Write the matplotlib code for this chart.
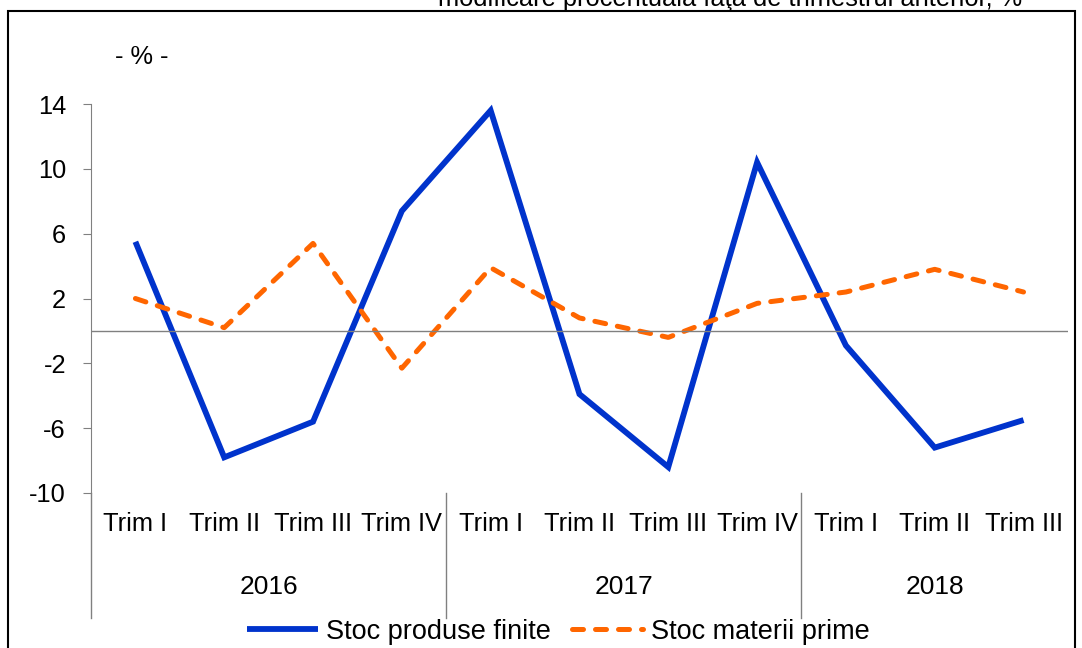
import matplotlib
matplotlib.use("Agg")
import matplotlib.pyplot as plt
from matplotlib.patches import Rectangle

plt.rcParams['font.family'] = ['Liberation Sans', 'DejaVu Sans']

quarters = ['Trim I', 'Trim II', 'Trim III', 'Trim IV',
            'Trim I', 'Trim II', 'Trim III', 'Trim IV',
            'Trim I', 'Trim II', 'Trim III']
years = ['2016', '2017', '2018']
year_spans = [(0, 3), (4, 7), (8, 10)]

# stoc produse finite
finite = [5.5, -7.8, -5.6, 7.4, 13.6, -3.9, -8.4, 10.4, -0.9, -7.2, -5.5]
# stoc materii prime
prime = [2.0, 0.2, 5.4, -2.3, 3.9, 0.8, -0.4, 1.7, 2.4, 3.8, 2.4]

yticks = [14, 10, 6, 2, -2, -6, -10]
fs = 18.3

fig = plt.figure(figsize=(10.82, 6.48), dpi=100)
ax = fig.add_axes([0.0841, 0.2392, 0.9029, 0.6003])

x = list(range(len(quarters)))
ax.plot(x, finite, color='#0033CC', lw=4.2, solid_capstyle='butt',
        solid_joinstyle='miter', label='Stoc produse finite')
ax.plot(x, prime, color='#FF6600', lw=3.6, dashes=(2.2, 2.4),
        dash_capstyle='round', label='Stoc materii prime')

ax.set_xlim(-0.5, len(quarters) - 0.5)
ax.set_ylim(-10, 14)
ax.set_yticks(yticks)
ax.set_yticklabels([str(t) for t in yticks], fontsize=fs)
ax.tick_params(axis='y', direction='out', length=6, color='#808080', pad=12)
ax.set_xticks([])

for s in ['top', 'right', 'bottom']:
    ax.spines[s].set_visible(False)
ax.spines['left'].set_color('#808080')
ax.axhline(0, color='#808080', lw=1)

tr = ax.get_xaxis_transform()
for i, q in enumerate(quarters):
    ax.text(i, -0.08, q, transform=tr, ha='center', va='center', fontsize=fs)
for yr, (a, b) in zip(years, year_spans):
    ax.text((a + b) / 2, -0.242, yr, transform=tr, ha='center', va='center', fontsize=19)
for sep in [-0.5, 3.5, 7.5]:
    ax.plot([sep, sep], [0, -0.322], transform=tr, color='#808080', lw=1, clip_on=False)

ax.text(0.052, 1.12, '- % -', transform=ax.transAxes, ha='center', va='center', fontsize=fs)

fig.legend(loc='center', bbox_to_anchor=(0.516, 0.025), ncol=2, frameon=False,
           fontsize=19.5, handlelength=2.6, handletextpad=0.3, columnspacing=0.8)

fig.text(0.945, 1 - 6 / 648, 'modificare procentuală faţă de trimestrul anterior, %',
         ha='right', va='baseline', fontsize=fs)

fig.patches.append(Rectangle((8 / 1082, -0.1), 1067 / 1082, 1.1 - 11 / 648,
                             transform=fig.transFigure, fill=False,
                             edgecolor='black', lw=1.5))

fig.savefig('out.png', dpi=100)
